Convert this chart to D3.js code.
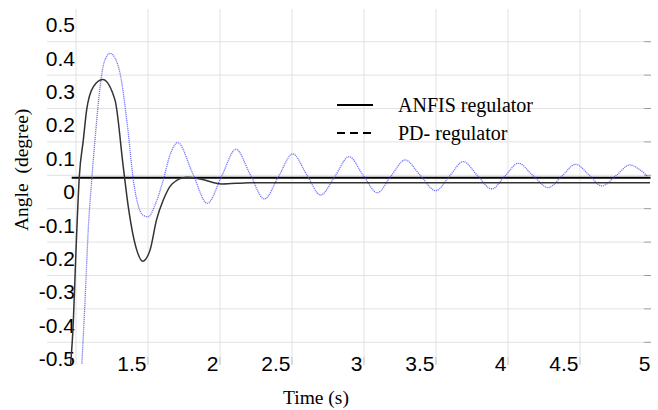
<!DOCTYPE html>
<html>
<head>
<meta charset="utf-8">
<script src="https://cdn.jsdelivr.net/npm/d3@7"></script>
<style>
  body { margin: 0; background: #fff; }
  .tick-label { font-family: 'Liberation Sans', Arial, sans-serif; font-size: 21px; fill: #000; }
  .title { font-family: 'Liberation Serif', 'Times New Roman', serif; fill: #000; }
</style>
</head>
<body>
<div id="vis"></div>
<script>
// values
const yTicks = [0.5, 0.4, 0.3, 0.2, 0.1, 0, -0.1, -0.2, -0.3, -0.4, -0.5];
const xTicks = [1.5, 2, 2.5, 3, 3.5, 4, 4.5, 5];
const gridY = [0.45, 0.35, 0.25, 0.15, 0.05, -0.05, -0.15, -0.25, -0.35, -0.45];
const gridX = [1, 1.5, 2, 2.5, 3, 3.5, 4, 4.5];

const refTime = [0.97, 4.99];
const refAngle = [0.043, 0.043];

const anfisTime = [0.962, 0.981, 1.0, 1.023, 1.051, 1.074, 1.12, 1.185, 1.271, 1.328, 1.363, 1.422, 1.463,
  1.514, 1.56, 1.606, 1.667, 1.769, 1.861, 2.012, 2.208, 2.556, 4.986];
const anfisAngle = [-0.52, -0.393, -0.174, 0.046, 0.156, 0.246, 0.315, 0.337, 0.275, 0.076, -0.044, -0.174, -0.207,
  -0.174, -0.082, -0.024, 0.024, 0.044, 0.039, 0.024, 0.028, 0.028, 0.028];

const pdTime = [1.04, 1.063, 1.085, 1.109, 1.132, 1.167, 1.194, 1.236, 1.271, 1.306, 1.363, 1.398, 1.431, 1.465,
  1.502, 1.549, 1.606, 1.653, 1.706, 1.809, 1.912, 2.012, 2.111, 2.208, 2.308, 2.406, 2.505, 2.602, 2.699,
  2.799, 2.896, 2.993, 3.092, 3.188, 3.285, 3.389, 3.498, 3.594, 3.69, 3.788, 3.887, 3.979, 4.072, 4.174,
  4.28, 4.375, 4.47, 4.563, 4.651, 4.75, 4.847, 4.917, 4.972];
const pdAngle = [-0.52, -0.323, -0.114, 0.036, 0.156, 0.314, 0.386, 0.415, 0.401, 0.355, 0.176, 0.036, -0.039, -0.069,
  -0.074, -0.039, 0.036, 0.111, 0.148, 0.057, -0.034, 0.048, 0.128, 0.054, -0.021, 0.046, 0.114, 0.052, -0.009,
  0.048, 0.106, 0.051, -0.002, 0.048, 0.096, 0.051, 0.004, 0.048, 0.091, 0.049, 0.009, 0.048, 0.086, 0.049,
  0.013, 0.048, 0.083, 0.051, 0.018, 0.049, 0.081, 0.066, 0.046];

const width = 658, height = 410;

const svg = d3.select("#vis").append("svg")
  .attr("width", width)
  .attr("height", height);

const x = d3.scaleLinear().domain([1, 5]).range([76, 652]);
const y = d3.scaleLinear().domain([-0.5, 0.5]).range([359, 25]);

// grid
svg.append("g").selectAll("line")
  .data(gridY)
  .join("line")
  .attr("x1", 47).attr("x2", 644)
  .attr("y1", d => y(d)).attr("y2", d => y(d))
  .attr("stroke", "#e2e2e2").attr("stroke-width", 1);

svg.append("g").selectAll("line")
  .data(gridY)
  .join("line")
  .attr("x1", 644).attr("x2", 651)
  .attr("y1", d => y(d)).attr("y2", d => y(d))
  .attr("stroke", "#999").attr("stroke-width", 1);

svg.append("g").selectAll("line")
  .data(gridX)
  .join("line")
  .attr("x1", d => x(d)).attr("x2", d => x(d))
  .attr("y1", 9).attr("y2", 365)
  .attr("stroke", "#e2e2e2").attr("stroke-width", 1);

svg.append("g").selectAll("line")
  .data(gridX.slice(1))
  .join("line")
  .attr("x1", d => x(d)).attr("x2", d => x(d))
  .attr("y1", 357).attr("y2", 365)
  .attr("stroke", "#c4c4c4").attr("stroke-width", 1);

// axes (labels only)
svg.append("g")
  .attr("transform", "translate(75,0)")
  .call(d3.axisLeft(y).tickValues(yTicks).tickSize(0).tickPadding(0).tickFormat(d => String(d)))
  .call(g => g.select(".domain").remove())
  .call(g => g.selectAll("text").attr("class", "tick-label").attr("font-size", null).attr("font-family", null));

svg.append("g")
  .attr("transform", "translate(0,356)")
  .call(d3.axisBottom(x).tickValues(xTicks).tickSize(0).tickPadding(0).tickFormat(d => String(d)))
  .call(g => g.select(".domain").remove())
  .call(g => g.selectAll("text").attr("class", "tick-label").attr("font-size", null).attr("font-family", null)
    .attr("text-anchor", "end").attr("dx", -2).attr("dy", "0.71em"));

// curves
svg.append("defs").append("clipPath").attr("id", "plot-clip")
  .append("rect").attr("x", 60).attr("y", 5).attr("width", 592).attr("height", 359);

const line = d3.line()
  .x(d => x(d[0]))
  .y(d => y(d[1]))
  .curve(d3.curveMonotoneX);

const plot = svg.append("g").attr("clip-path", "url(#plot-clip)");

plot.append("path")
  .attr("d", d3.line().x(d => x(d[0])).y(d => y(d[1]))(d3.zip(refTime, refAngle)))
  .attr("stroke", "#000").attr("stroke-width", 2).attr("fill", "none");

plot.append("path")
  .attr("d", line(d3.zip(pdTime, pdAngle)))
  .attr("stroke", "#4a4aff").attr("stroke-width", 1.3)
  .attr("stroke-dasharray", "1.2 0.8").attr("stroke-opacity", 0.75)
  .attr("fill", "none");

plot.append("path")
  .attr("d", line(d3.zip(anfisTime, anfisAngle)))
  .attr("stroke", "#333").attr("stroke-width", 1.5).attr("fill", "none");

// legend
const legend = [
  { text: "ANFIS regulator", dash: null, y: 105 },
  { text: "PD- regulator", dash: "8 5", y: 133 }
];
const lg = svg.append("g").selectAll("g").data(legend).join("g");
lg.append("line")
  .attr("x1", 337).attr("x2", 373)
  .attr("y1", d => d.y).attr("y2", d => d.y)
  .attr("stroke", "#000").attr("stroke-width", 2)
  .attr("stroke-dasharray", d => d.dash);
lg.append("text")
  .attr("class", "title")
  .attr("x", 398).attr("y", d => d.y + 7)
  .attr("font-size", 20)
  .text(d => d.text);

// axis titles
svg.append("text")
  .attr("class", "title")
  .attr("font-size", 19.5)
  .attr("text-anchor", "middle")
  .attr("x", 316).attr("y", 404)
  .text("Time (s)");

svg.append("text")
  .attr("class", "title")
  .attr("font-size", 19.5)
  .attr("text-anchor", "start")
  .attr("transform", "translate(28,231) rotate(-90)")
  .attr("xml:space", "preserve")
  .style("white-space", "pre")
  .text("Angle  (degree)");
</script>
</body>
</html>
